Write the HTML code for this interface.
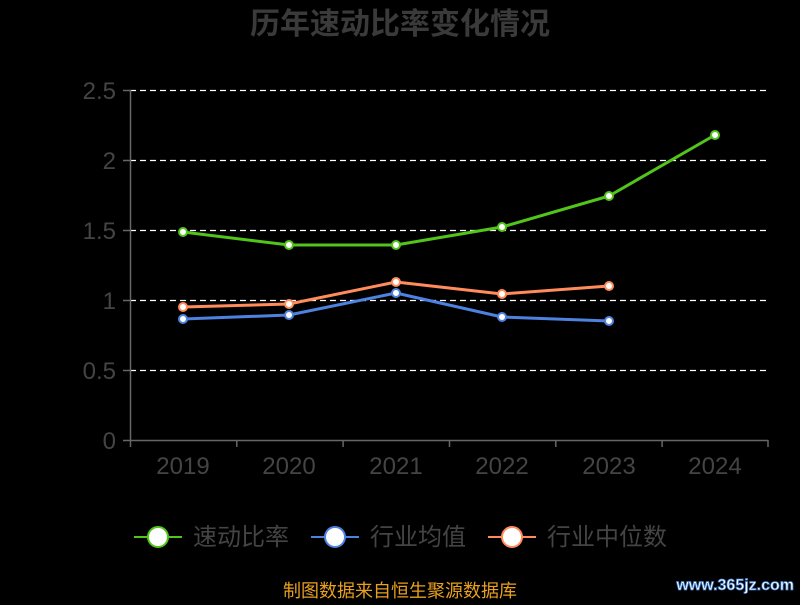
<!DOCTYPE html>
<html><head><meta charset="utf-8"><style>
body{margin:0;background:#000;}
svg text{font-family:"Liberation Sans","Noto Sans CJK SC",sans-serif;}
</style></head><body>
<svg width="800" height="600" xmlns="http://www.w3.org/2000/svg">
<rect width="800" height="600" fill="#000"/>
<text x="400" y="34" text-anchor="middle" font-size="30" font-weight="bold" fill="#3a3a3a">历年速动比率变化情况</text>
<g stroke="#fff" stroke-width="1.2" stroke-dasharray="6,4">
<line x1="130" y1="90.5" x2="768" y2="90.5"/>
<line x1="130" y1="160.5" x2="768" y2="160.5"/>
<line x1="130" y1="230.5" x2="768" y2="230.5"/>
<line x1="130" y1="300.5" x2="768" y2="300.5"/>
<line x1="130" y1="370.5" x2="768" y2="370.5"/>
</g>
<g stroke="#666" stroke-width="1.5">
<line x1="130.5" y1="90" x2="130.5" y2="441"/>
<line x1="130" y1="440.5" x2="768" y2="440.5"/>
<line x1="123" y1="90.5" x2="130" y2="90.5"/><line x1="123" y1="160.5" x2="130" y2="160.5"/>
<line x1="123" y1="230.5" x2="130" y2="230.5"/><line x1="123" y1="300.5" x2="130" y2="300.5"/>
<line x1="123" y1="370.5" x2="130" y2="370.5"/><line x1="123" y1="440.5" x2="130" y2="440.5"/>
<line x1="130.5" y1="440" x2="130.5" y2="447"/><line x1="236.8" y1="440" x2="236.8" y2="447"/>
<line x1="343.1" y1="440" x2="343.1" y2="447"/><line x1="449.5" y1="440" x2="449.5" y2="447"/>
<line x1="555.8" y1="440" x2="555.8" y2="447"/><line x1="662.1" y1="440" x2="662.1" y2="447"/>
<line x1="768" y1="440" x2="768" y2="447"/>
</g>
<g font-size="24" fill="#444" text-anchor="end">
<text x="116" y="99">2.5</text><text x="116" y="169">2</text><text x="116" y="239">1.5</text>
<text x="116" y="309">1</text><text x="116" y="379">0.5</text><text x="116" y="449">0</text>
</g>
<g font-size="24" fill="#444" text-anchor="middle">
<text x="183" y="474">2019</text><text x="289" y="474">2020</text><text x="396" y="474">2021</text>
<text x="502" y="474">2022</text><text x="609" y="474">2023</text><text x="715" y="474">2024</text>
</g>
<g fill="none" stroke-width="3" stroke-linejoin="round">
<polyline stroke="#52c41a" points="183,232 289,245 396,245 502,227 609,196 715,135"/>
<polyline stroke="#4e82e0" points="183,319 289,315 396,293 502,317 609,321"/>
<polyline stroke="#ff8c5a" points="183,307 289,304 396,282 502,294 609,286"/>
</g>
<g fill="#fff" stroke-width="2">
<g stroke="#52c41a"><circle cx="183" cy="232" r="4"/><circle cx="289" cy="245" r="4"/><circle cx="396" cy="245" r="4"/><circle cx="502" cy="227" r="4"/><circle cx="609" cy="196" r="4"/><circle cx="715" cy="135" r="4"/></g>
<g stroke="#4e82e0"><circle cx="183" cy="319" r="4"/><circle cx="289" cy="315" r="4"/><circle cx="396" cy="293" r="4"/><circle cx="502" cy="317" r="4"/><circle cx="609" cy="321" r="4"/></g>
<g stroke="#ff8c5a"><circle cx="183" cy="307" r="4"/><circle cx="289" cy="304" r="4"/><circle cx="396" cy="282" r="4"/><circle cx="502" cy="294" r="4"/><circle cx="609" cy="286" r="4"/></g>
</g>
<g stroke-width="2">
<line x1="134" y1="537" x2="182" y2="537" stroke="#52c41a"/><circle cx="158" cy="537" r="10" fill="#fff" stroke="#52c41a"/>
<line x1="311" y1="537" x2="359" y2="537" stroke="#4e82e0"/><circle cx="335" cy="537" r="10" fill="#fff" stroke="#4e82e0"/>
<line x1="488" y1="537" x2="536" y2="537" stroke="#ff8c5a"/><circle cx="512" cy="537" r="10" fill="#fff" stroke="#ff8c5a"/>
</g>
<g font-size="24" fill="#444">
<text x="193" y="545">速动比率</text><text x="370" y="545">行业均值</text><text x="547" y="545">行业中位数</text>
</g>
<text x="400" y="597" text-anchor="middle" font-size="18" fill="#e8a020">制图数据来自恒生聚源数据库</text>
<text x="794" y="590" text-anchor="end" font-size="16" font-weight="bold" fill="#fff" stroke="#3a7ac8" stroke-width="0.8">www.365jz.com</text>
</svg>
</body></html>
